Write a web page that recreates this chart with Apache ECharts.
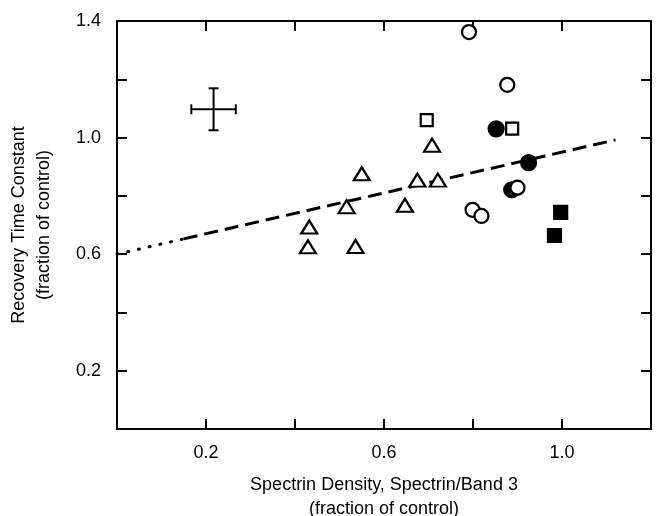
<!DOCTYPE html>
<html>
<head>
<meta charset="utf-8">
<script src="https://cdn.jsdelivr.net/npm/echarts@6/dist/echarts.min.js"></script>
<style>
html,body{margin:0;padding:0;background:#fff;}
#chart{width:660px;height:516px;}
</style>
</head>
<body>
<div id="chart"></div>
<script>
// ---- data ----
var openTriangles = [[0.550,0.876],[0.675,0.854],[0.721,0.854],[0.516,0.763],[0.647,0.768],[0.432,0.693],[0.429,0.625],[0.536,0.626],[0.708,0.974]];
var openSquares = [[0.696,1.060],[0.888,1.031]];
var filledSquares = [[0.997,0.743],[0.983,0.664]];
var openCircles = [[0.791,1.362],[0.877,1.181],[0.900,0.828],[0.799,0.752],[0.819,0.731]];
var filledCircles = [[0.852,1.030],[0.925,0.914],[0.887,0.821]];
var fitDotted = [[0.0,0.600],[0.15,0.6525]];
var fitDashed = [[0.15,0.6525],[1.12,0.992]];
var errorCross = [[0.217,1.097,0.05,0.072]];
var xTickLabels = ['0.2','0.6','1.0'];
var yTickLabels = ['0.2','0.6','1.0','1.4'];
var xTitle = 'Spectrin Density, Spectrin/Band 3\n(fraction of control)';
var yTitle = 'Recovery Time Constant\n(fraction of control)';

var FONT = '"Liberation Sans", Arial, Helvetica, sans-serif';
var chart = echarts.init(document.getElementById('chart'), null, {renderer:'canvas'});

function axisBase(labels, show){
  return {
    type:'value', min:0, interval:0.2,
    axisLine:{show:true, onZero:false, lineStyle:{color:'#000', width:2}},
    axisTick:{show:true, inside:true, length:10, lineStyle:{color:'#000', width:2}},
    splitLine:{show:false},
    axisLabel:{
      show:show, color:'#000', fontSize:18, fontFamily:FONT,
      formatter:function(v){ var s=v.toFixed(1); return labels.indexOf(s)>=0 ? s : ''; }
    }
  };
}

var xB = axisBase(xTickLabels, true);
xB.max = 1.2; xB.position='bottom'; xB.axisLabel.margin = 15;
xB.name = xTitle; xB.nameLocation='middle'; xB.nameGap = 44;
xB.nameTextStyle = {color:'#000', fontSize:18, fontFamily:FONT, lineHeight:24};
var xT = axisBase([], false); xT.max = 1.2; xT.position='top';
var yL = axisBase(yTickLabels, true);
yL.max = 1.4; yL.position='left'; yL.axisLabel.margin = 16;
yL.name = yTitle; yL.nameLocation='middle'; yL.nameGap = 60; yL.nameRotate = 90;
yL.nameTextStyle = {color:'#000', fontSize:18, fontFamily:FONT, lineHeight:25};
var yR = axisBase([], false); yR.max = 1.4; yR.position='right';

function scatter(name, data, symbol, size, fill, z){
  return {
    name:name, type:'scatter', data:data, symbol:symbol, symbolSize:size, z:z,
    xAxisIndex:0, yAxisIndex:0,
    itemStyle:{color:fill, borderColor:'#000', borderWidth:2.2, opacity:1},
    emphasis:{disabled:true}
  };
}

var option = {
  animation:false,
  backgroundColor:'#fff',
  grid:{left:117, right:9, top:21, bottom:87, containLabel:false, outerBoundsMode:'none'},
  xAxis:[xB, xT],
  yAxis:[yL, yR],
  series:[
    {type:'line', data:fitDotted, showSymbol:false, symbol:'none', z:2,
     lineStyle:{color:'#000', width:3, type:[1,10], cap:'round'}},
    {type:'line', data:fitDashed, showSymbol:false, symbol:'none', z:2,
     lineStyle:{color:'#000', width:3, type:[14,7]}},
    {type:'custom', data:errorCross, z:3,
     renderItem:function(params, api){
       var x=api.value(0), y=api.value(1), dx=api.value(2), dy=api.value(3);
       var l=api.coord([x-dx,y]), r=api.coord([x+dx,y]);
       var t=api.coord([x,y+dy]), b=api.coord([x,y-dy]);
       var cap=5, st={stroke:'#000', lineWidth:2};
       return {type:'group', children:[
         {type:'line', shape:{x1:l[0],y1:l[1],x2:r[0],y2:r[1]}, style:st},
         {type:'line', shape:{x1:t[0],y1:t[1],x2:b[0],y2:b[1]}, style:st},
         {type:'line', shape:{x1:l[0],y1:l[1]-cap,x2:l[0],y2:l[1]+cap}, style:st},
         {type:'line', shape:{x1:r[0],y1:r[1]-cap,x2:r[0],y2:r[1]+cap}, style:st},
         {type:'line', shape:{x1:t[0]-cap,y1:t[1],x2:t[0]+cap,y2:t[1]}, style:st},
         {type:'line', shape:{x1:b[0]-cap,y1:b[1],x2:b[0]+cap,y2:b[1]}, style:st}
       ]};
     }},
    scatter('openTriangles', openTriangles, 'triangle', [16,13], '#fff', 5),
    scatter('openSquares', openSquares, 'rect', 12, '#fff', 5),
    scatter('filledSquares', filledSquares, 'rect', 13, '#000', 5),
    scatter('filledCircles', filledCircles, 'circle', 15, '#000', 5),
    scatter('openCircles', openCircles, 'circle', 14, '#fff', 6)
  ]
};
chart.setOption(option);
</script>
</body>
</html>
